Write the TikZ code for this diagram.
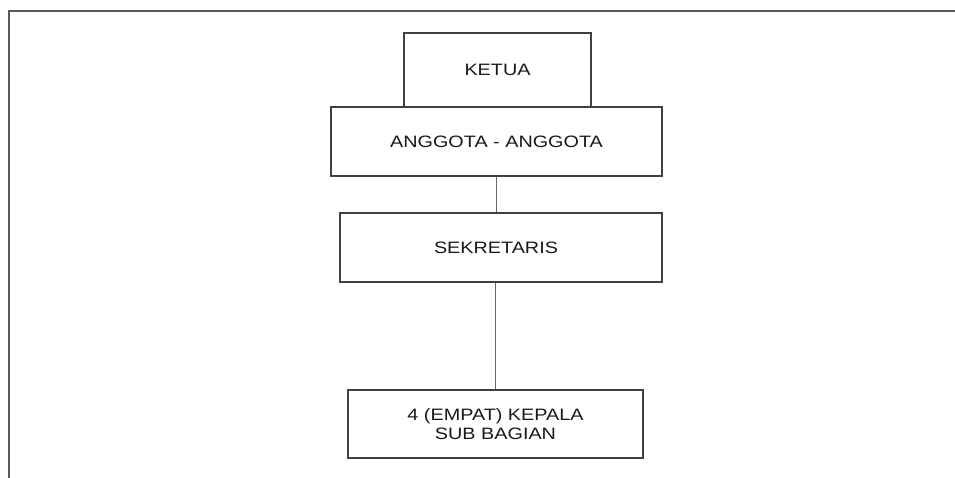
\documentclass[tikz,border=0pt]{standalone}
\usepackage{fontspec}
\setmainfont{Liberation Sans}[FakeStretch=1.2]
\begin{document}
\begin{tikzpicture}[x=1pt,y=-1pt,
  orgbox/.style={draw=black!75, line width=1.4pt, fill=white, inner sep=0pt,
    align=center, text=black!90, font=\fontsize{16.5}{19.5}\selectfont},
  link/.style={draw=black!60, line width=1.7pt},
  frameline/.style={draw=black!65, line width=1.7pt}]
\useasboundingbox (0,0) rectangle (955,478);
% outer frame
\coordinate (fbl) at (9,480);
\coordinate (ftl) at (9,11);
\coordinate (ftr) at (957,11);
\draw[frameline] (fbl) -- (ftl) -- (ftr);
% boxes
\node[orgbox, minimum width=187pt, minimum height=74pt] (ketua) at (497.5,70) {KETUA};
\node[orgbox, minimum width=331pt, minimum height=69pt] (anggota) at (496.5,141.5) {ANGGOTA - ANGGOTA};
\node[orgbox, minimum width=322pt, minimum height=69pt] (sekretaris) at (501,247.5) {\hspace*{-10pt}SEKRETARIS};
\node[orgbox, minimum width=295pt, minimum height=68pt] (kasub) at (495.5,424) {4 (EMPAT) KEPALA\\SUB BAGIAN};
% connectors
\draw[link] (anggota.south) -- (anggota.south |- sekretaris.north);
\draw[link] (kasub.north |- sekretaris.south) -- (kasub.north);
\end{tikzpicture}
\end{document}
